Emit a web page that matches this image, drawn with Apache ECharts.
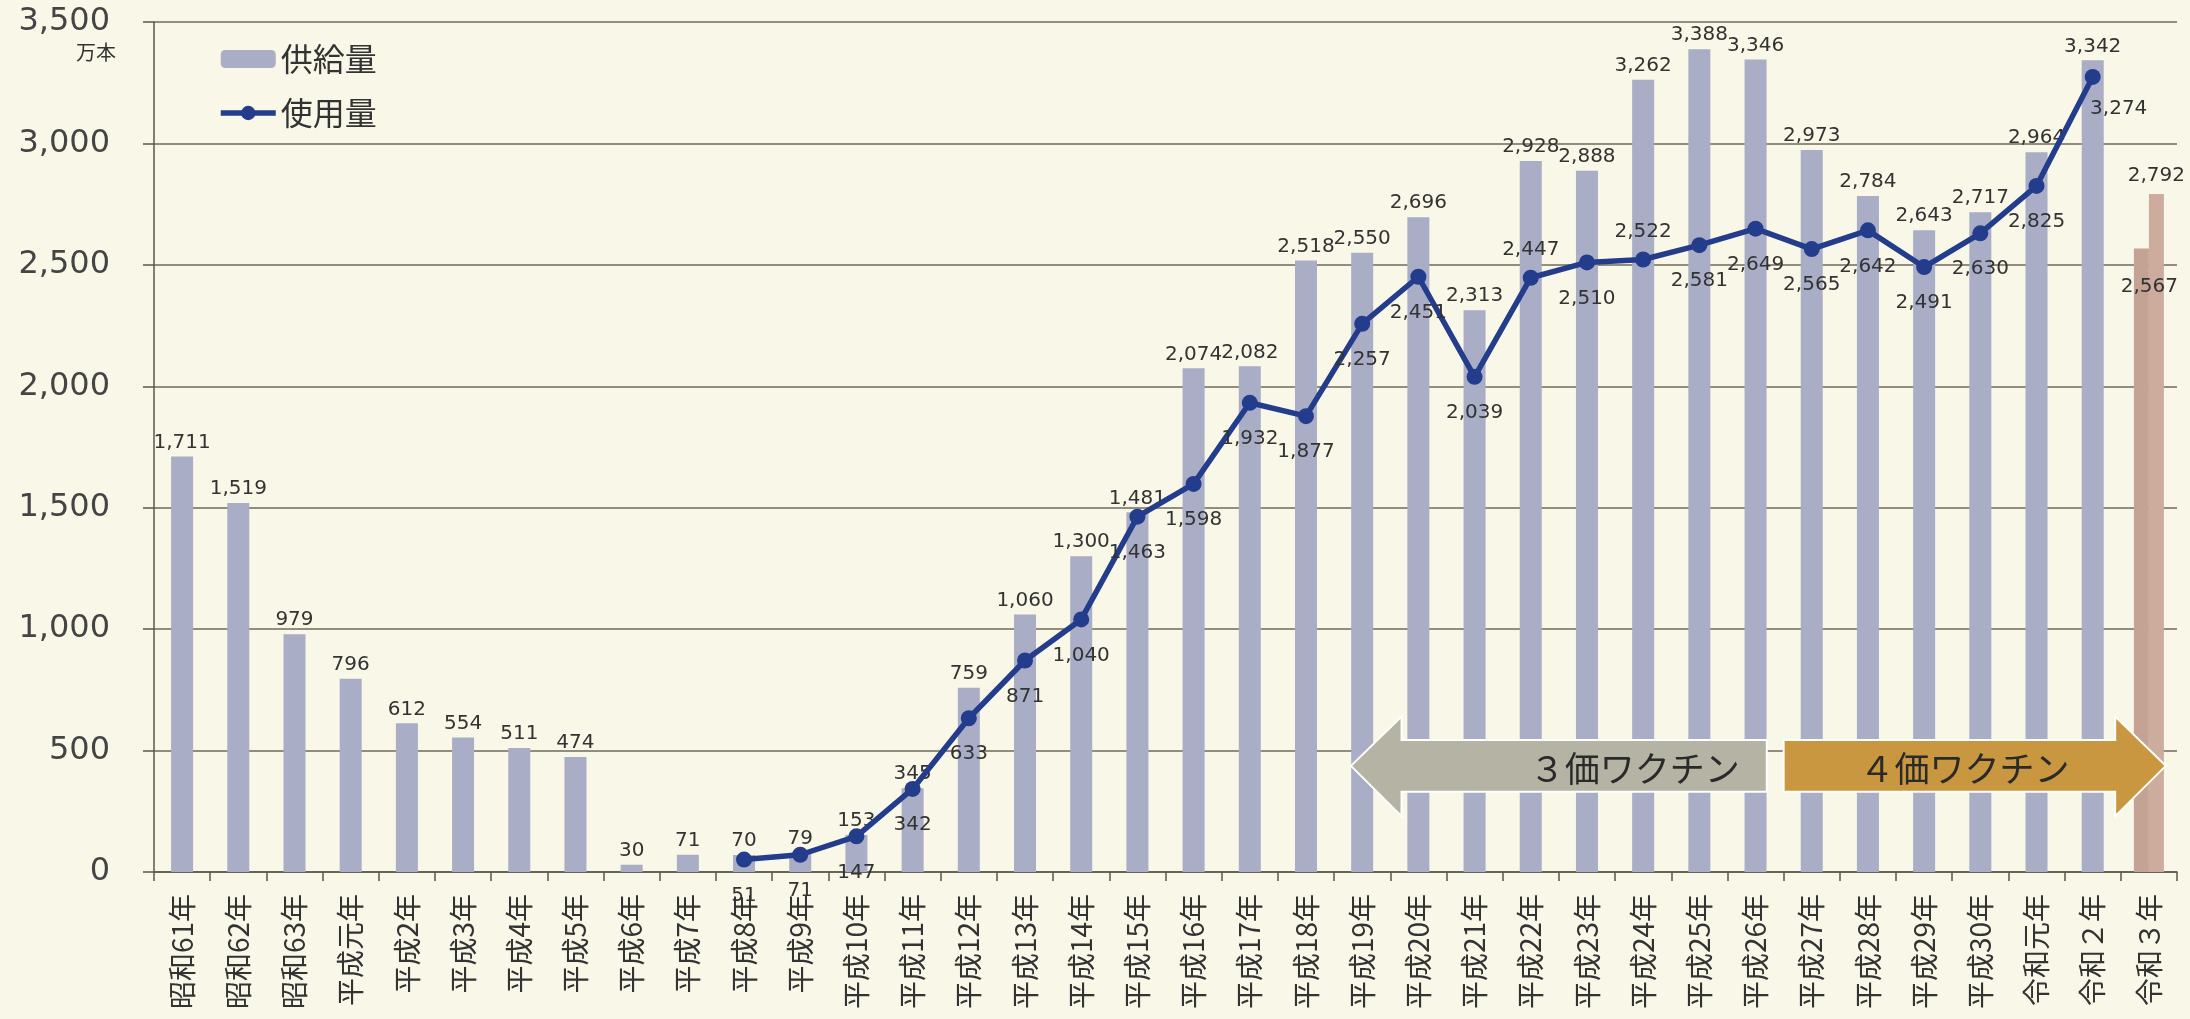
<!DOCTYPE html>
<html>
<head>
<meta charset="utf-8">
<script src="https://cdn.jsdelivr.net/npm/echarts@6/dist/echarts.min.js"></script>
<style>
html,body{margin:0;padding:0;background:#f9f7e8;}
#chart{width:2190px;height:1019px;}
</style>
</head>
<body>
<div id="chart"></div>
<script>
// ---- data ----
const categories = ['昭和61年','昭和62年','昭和63年','平成元年','平成2年','平成3年','平成4年','平成5年','平成6年','平成7年','平成8年','平成9年','平成10年','平成11年','平成12年','平成13年','平成14年','平成15年','平成16年','平成17年','平成18年','平成19年','平成20年','平成21年','平成22年','平成23年','平成24年','平成25年','平成26年','平成27年','平成28年','平成29年','平成30年','令和元年','令和２年','令和３年'];
const supply = [1711,1519,979,796,612,554,511,474,30,71,70,79,153,345,759,1060,1300,1481,2074,2082,2518,2550,2696,2313,2928,2888,3262,3388,3346,2973,2784,2643,2717,2964,3342,'-'];
const usage = ['-','-','-','-','-','-','-','-','-','-',51,71,147,342,633,871,1040,1463,1598,1932,1877,2257,2451,2039,2447,2510,2522,2581,2649,2565,2642,2491,2630,2825,3274,'-'];
const reiwa3A = ['-','-','-','-','-','-','-','-','-','-','-','-','-','-','-','-','-','-','-','-','-','-','-','-','-','-','-','-','-','-','-','-','-','-','-',2567];
const reiwa3B = ['-','-','-','-','-','-','-','-','-','-','-','-','-','-','-','-','-','-','-','-','-','-','-','-','-','-','-','-','-','-','-','-','-','-','-',2792];
const yTicks = [0,500,1000,1500,2000,2500,3000,3500];
// label placement for the usage line (style, separate from values)
const usageLabelTop = ['平成22年','平成24年'];

const fmt = v => Number(v).toLocaleString('en-US');
const NUMFONT = "'DejaVu Sans','Noto Sans CJK JP',sans-serif";
const JPFONT = "'Noto Sans CJK JP','Noto Sans',sans-serif";

const chart = echarts.init(document.getElementById('chart'), null, {renderer:'canvas'});

const usageData = usage.map((v,i) => {
  if (v === '-') return v;
  const top = usageLabelTop.includes(categories[i]);
  const item = {value: v, label: {position: top ? 'top' : 'bottom', distance: top ? 10 : 18}};
  if (categories[i] === '令和２年') item.label.offset = [26, -4];
  return item;
});

const option = {
  backgroundColor: '#f9f7e8',
  animation: false,
  grid: {left: 154, right: 13, top: 22, bottom: 147, containLabel: false},
  legend: {
    data: [{name: '供給量'}, {name: '使用量', lineStyle: {width: 5.5}, itemStyle: {color: '#243c8c'}}],
    orient: 'vertical', left: 213, top: 38,
    itemWidth: 55, itemHeight: 18, itemGap: 22,
    textStyle: {fontSize: 32, color: '#333', fontFamily: JPFONT}
  },
  xAxis: [{
    type: 'category', data: categories,
    axisLine: {lineStyle: {color: '#5a574c', width: 1.5}},
    axisTick: {show: true, length: 9, lineStyle: {color: '#5a574c', width: 1.5}},
    axisLabel: {interval: 0, rotate: 90, fontSize: 28, color: '#333', fontFamily: JPFONT, margin: 22},
    splitLine: {show: false}
  },{
    type: 'category', data: categories, show: false
  }],
  yAxis: {
    type: 'value', min: yTicks[0], max: yTicks[yTicks.length-1], interval: 500,
    axisLine: {show: true, lineStyle: {color: '#5a574c', width: 1.5}},
    axisTick: {show: true, length: 11, lineStyle: {color: '#5a574c', width: 1.5}},
    axisLabel: {formatter: v => fmt(v), fontSize: 32, color: '#444', fontFamily: NUMFONT, margin: 44},
    splitLine: {lineStyle: {color: '#6e6a5c', width: 1.5}}
  },
  series: [{
    name: '供給量', type: 'bar', data: supply, barWidth: 22, xAxisIndex: 0,
    itemStyle: {color: '#a9adc6'},
    label: {show: true, position: 'top', distance: 4, fontSize: 20, color: '#333', fontFamily: NUMFONT, formatter: p => fmt(p.value)},
    z: 2
  },{
    name: '令和3年a', type: 'bar', data: reiwa3A, barWidth: 15, barGap: '0%', xAxisIndex: 1,
    itemStyle: {color: '#c4a394'},
    label: {show: true, position: 'insideTop', distance: 28, offset: [8, 0], fontSize: 20, color: '#333', fontFamily: NUMFONT, formatter: p => fmt(p.value)},
    z: 2
  },{
    name: '令和3年b', type: 'bar', data: reiwa3B, barWidth: 15, barGap: '0%', xAxisIndex: 1,
    itemStyle: {color: '#cdac9e'},
    label: {show: true, position: 'top', distance: 8, fontSize: 20, color: '#333', fontFamily: NUMFONT, formatter: p => fmt(p.value)},
    z: 2
  },{
    name: '使用量', type: 'line', data: usageData, xAxisIndex: 0,
    symbol: 'circle', symbolSize: 16, connectNulls: false,
    lineStyle: {color: '#243c8c', width: 5.5},
    itemStyle: {color: '#243c8c'},
    label: {show: true, fontSize: 20, color: '#333', fontFamily: NUMFONT, formatter: p => fmt(p.value)},
    z: 5
  }]
};
chart.setOption(option);

// ---- annotations: vaccine arrows, placed via axis scales ----
function px(idx, frac, val) {
  const c = chart.convertToPixel({xAxisIndex: 0, yAxisIndex: 0}, [idx, val]);
  const c2 = chart.convertToPixel({xAxisIndex: 0, yAxisIndex: 0}, [idx + 1, val]);
  const w = c2[0] - c[0];
  return [c[0] + frac * w, c[1]];
}
function drawAnnotations() {
  const i19 = categories.indexOf('平成19年');
  const i26 = categories.indexOf('平成26年');
  const i27 = categories.indexOf('平成27年');
  const i32 = categories.indexOf('令和２年');
  const yTipTop = 640, yTipBot = 230, yBodyTop = 544, yBodyBot = 330, yMid = 437;

  const a1tip = px(i19, -0.2, yMid);
  const a1bs = px(i19, 0.7, yBodyTop)[0];
  const a1end = px(i26, 0.2, yMid)[0];
  const ytT = px(i19, 0, yTipTop)[1], ytB = px(i19, 0, yTipBot)[1];
  const ybT = px(i19, 0, yBodyTop)[1], ybB = px(i19, 0, yBodyBot)[1];
  const ym = a1tip[1];

  const a2start = px(i27, -0.5, yMid)[0];
  const a2be = px(i32, 0.4, yMid)[0];
  const a2tip = px(i32 + 1, 0.3, yMid)[0];

  const t1 = px(categories.indexOf('平成24年'), -0.15, yMid - 10);
  const t2 = px(categories.indexOf('平成30年'), -0.28, yMid - 10);

  chart.setOption({
    graphic: [{
      type: 'polygon', z: 10,
      shape: {points: [[a1tip[0], ym],[a1bs, ytT],[a1bs, ybT],[a1end, ybT],[a1end, ybB],[a1bs, ybB],[a1bs, ytB]]},
      style: {fill: '#b5b4a4', stroke: '#ffffff', lineWidth: 2}
    },{
      type: 'polygon', z: 10,
      shape: {points: [[a2start, ybT],[a2be, ybT],[a2be, ytT],[a2tip, ym],[a2be, ytB],[a2be, ybB],[a2start, ybB]]},
      style: {fill: '#c8973f', stroke: '#ffffff', lineWidth: 2}
    },{
      type: 'text', z: 11, x: t1[0], y: t1[1],
      style: {text: '３価ワクチン', fontSize: 35, fontFamily: JPFONT, fill: '#2a2a2a', align: 'center', verticalAlign: 'middle'}
    },{
      type: 'text', z: 11, x: t2[0], y: t2[1],
      style: {text: '４価ワクチン', fontSize: 35, fontFamily: JPFONT, fill: '#2a2a2a', align: 'center', verticalAlign: 'middle'}
    },{
      type: 'text', z: 11, left: 76, top: 42,
      style: {text: '万本', fontSize: 20, fontFamily: JPFONT, fill: '#333'}
    }]
  });
}
drawAnnotations();
</script>
</body>
</html>
